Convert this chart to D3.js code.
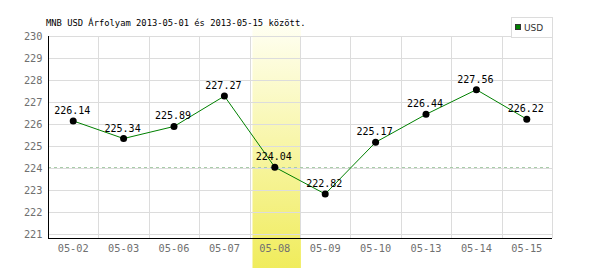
<!DOCTYPE html>
<html><head><meta charset="utf-8">
<script src="https://cdn.jsdelivr.net/npm/d3@7"></script>
<style>body{margin:0;background:#fff}svg{display:block}</style>
</head><body>
<svg id="c" width="600" height="270"></svg>
<script>
const categories = ["05-02","05-03","05-06","05-07","05-08","05-09","05-10","05-13","05-14","05-15"];
const values = [226.14,225.34,225.89,227.27,224.04,222.82,225.17,226.44,227.56,226.22];
const yTicks = [221,222,223,224,225,226,227,228,229,230];
const highlightCategory = "05-08";
const referenceValue = 224.04;
const seriesName = "USD";
const title = "MNB USD Árfolyam 2013-05-01 és 2013-05-15 között.";

const svg = d3.select("#c");
const L = 48, R = 552, T = 36, B = 238;
const x = d3.scaleBand().domain(categories).range([L, R]);
const y = d3.scaleLinear().domain([220.82, 230]).range([B, T]);
const mono = "'DejaVu Sans Mono', 'Liberation Mono', monospace";

const defs = svg.append("defs");
const g = defs.append("linearGradient").attr("id","hl").attr("x1",0).attr("y1",0).attr("x2",0).attr("y2",1);
g.append("stop").attr("offset","0%").attr("stop-color","#fffff2");
g.append("stop").attr("offset","100%").attr("stop-color","#f0ec5c");

// highlight band
svg.append("rect").attr("x", Math.round(x(highlightCategory))+2.5).attr("y", 25)
  .attr("width", x.bandwidth()-2).attr("height", 268-25).attr("fill","url(#hl)");

// grid
svg.append("g").selectAll("line").data(yTicks).join("line")
  .attr("x1", L).attr("x2", R).attr("y1", d=>Math.round(y(d))+0.5).attr("y2", d=>Math.round(y(d))+0.5)
  .attr("stroke","#dcdcdc");
svg.append("g").selectAll("line").data(categories.slice(1).concat(["end"])).join("line")
  .attr("x1", (d,i)=>Math.round(L + x.step()*(i+1))+0.5).attr("x2", (d,i)=>Math.round(L + x.step()*(i+1))+0.5)
  .attr("y1", T).attr("y2", B).attr("stroke","#dcdcdc");

// reference line
svg.append("line").attr("x1", L).attr("x2", R)
  .attr("y1", Math.round(y(referenceValue))+0.5).attr("y2", Math.round(y(referenceValue))+0.5)
  .attr("stroke","#a8cca8").attr("stroke-dasharray","3,3");

// axes
const ya = svg.append("g").attr("transform",`translate(${L+0.5},0)`)
  .call(d3.axisLeft(y).tickValues(yTicks).tickSize(0).tickPadding(6).tickFormat(d3.format("d")));
ya.select(".domain").attr("stroke","#000").attr("d",`M0,${T}V${B}`);
ya.selectAll("text").attr("font-family",mono).attr("font-size","10.3px").attr("fill","#707070");
const xa = svg.append("g").attr("transform",`translate(0,${B+0.5})`)
  .call(d3.axisBottom(x).tickSize(0).tickPadding(6));
xa.select(".domain").attr("stroke","#000").attr("d",`M${L},0H${R}`);
xa.selectAll("text").attr("font-family",mono).attr("font-size","10.3px").attr("fill","#707070");

// line
const line = d3.line().x((d,i)=>x(categories[i])+x.bandwidth()/2).y(d=>y(d));
svg.append("path").datum(values).attr("d", line).attr("fill","none").attr("stroke","#008000").attr("stroke-width",1);
svg.append("g").selectAll("circle").data(values).join("circle")
  .attr("cx",(d,i)=>x(categories[i])+x.bandwidth()/2).attr("cy",d=>y(d)).attr("r",3.5).attr("fill","#000");
svg.append("g").selectAll("text").data(values).join("text")
  .attr("x",(d,i)=>x(categories[i])+x.bandwidth()/2-1).attr("y",d=>y(d)-7)
  .attr("text-anchor","middle").attr("font-family",mono).attr("font-size","10px").attr("fill","#000")
  .text(d=>d.toFixed(2));

// title
svg.append("text").attr("x",46).attr("y",26).attr("font-family",mono).attr("font-size","8.8px").attr("fill","#000").text(title);

// legend
svg.append("rect").attr("x",511.5).attr("y",17.5).attr("width",41).attr("height",20).attr("fill","#fff").attr("stroke","#dcdcdc");
svg.append("rect").attr("x",515.5).attr("y",24.5).attr("width",5).attr("height",5).attr("fill","#008000").attr("stroke","#333");
svg.append("text").attr("x",524).attr("y",31).attr("font-family","'DejaVu Sans', sans-serif").attr("font-size","9px").attr("fill","#333").text(seriesName);
</script>
</body></html>
